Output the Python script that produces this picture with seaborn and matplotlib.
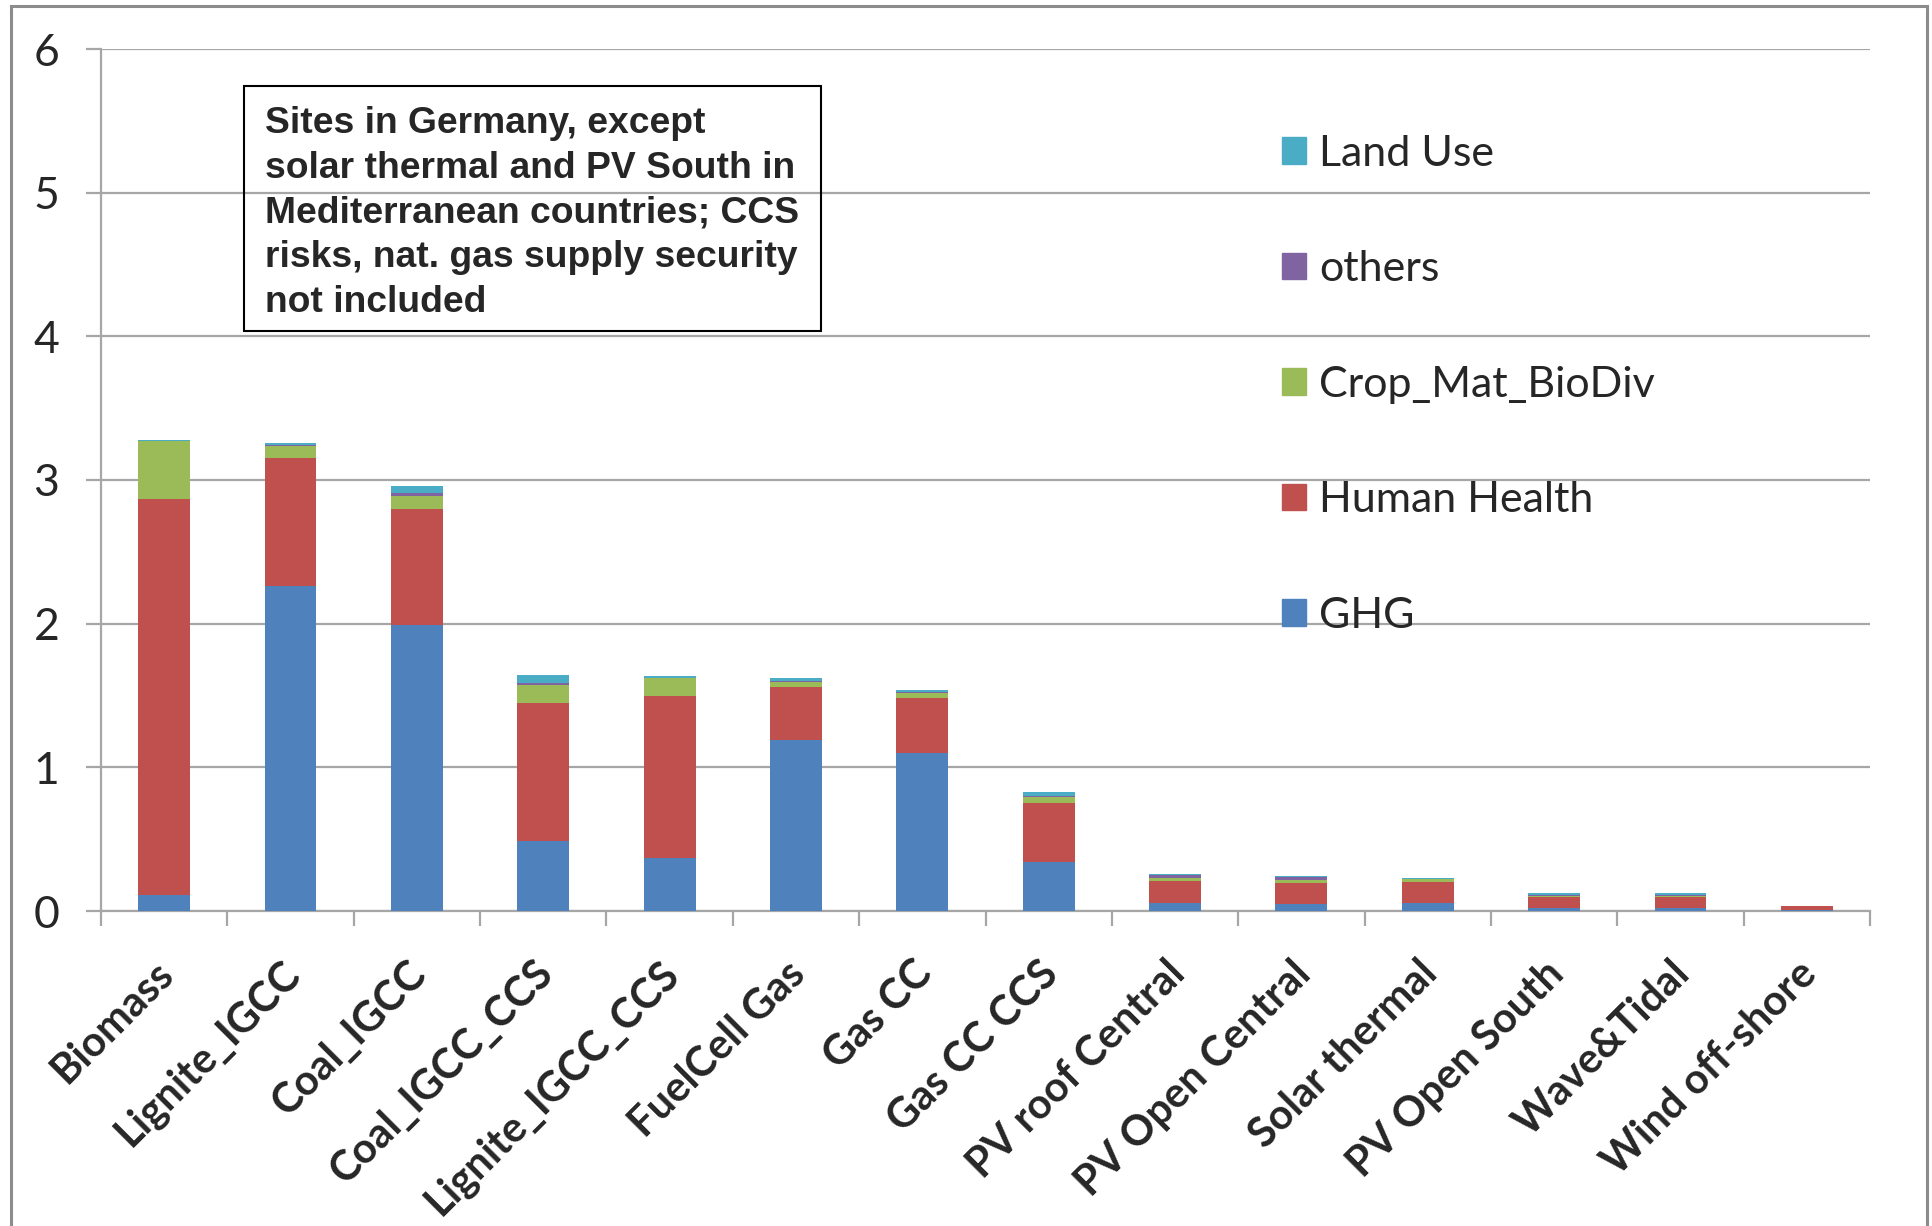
"""Stacked external-cost bars per power technology."""

import matplotlib
matplotlib.use("Agg")
import matplotlib.pyplot as plt
import matplotlib.transforms as mtransforms
from matplotlib.patches import Rectangle, Patch
import numpy as np
import seaborn as sns

W, H = 1932, 1226

categories = ['Biomass', 'Lignite_IGCC', 'Coal_IGCC', 'Coal_IGCC_CCS',
              'Lignite_IGCC_CCS', 'FuelCell Gas', 'Gas CC', 'Gas CC CCS',
              'PV roof Central', 'PV Open Central', 'Solar thermal',
              'PV Open South', 'Wave&Tidal', 'Wind off-shore']
ghg = [0.11, 2.26, 1.99, 0.485, 0.37, 1.19, 1.10, 0.34,
       0.055, 0.05, 0.055, 0.02, 0.02, 0.007]
human_health = [2.755, 0.89, 0.805, 0.96, 1.125, 0.37, 0.38, 0.41,
                0.155, 0.145, 0.145, 0.077, 0.077, 0.025]
crop_mat_biodiv = [0.405, 0.085, 0.095, 0.125, 0.125, 0.035, 0.04, 0.045,
                   0.02, 0.018, 0.022, 0.005, 0.005, 0.002]
others = [0.0, 0.01, 0.02, 0.015, 0.005, 0.005, 0.005, 0.005,
          0.02, 0.022, 0.003, 0.01, 0.01, 0.001]
land_use = [0.01, 0.01, 0.045, 0.055, 0.01, 0.02, 0.015, 0.025,
            0.007, 0.008, 0.005, 0.012, 0.012, 0.003]

series_names = ['GHG', 'Human Health', 'Crop_Mat_BioDiv', 'others', 'Land Use']
series_colors = ['#4F81BD', '#C0504D', '#9BBB59', '#8064A2', '#4BACC6']
note = ("Sites in Germany, except\nsolar thermal and PV South in\n"
        "Mediterranean countries; CCS\nrisks, nat. gas supply security\n"
        "not included")

sns.set_style('white')
plt.rcParams['font.family'] = ['Lato', 'DejaVu Sans']
grid_gray = '#A6A6A6'

fig = plt.figure(figsize=(W / 100, H / 100), dpi=100)
ax = fig.add_axes([101 / W, 1 - 911 / H, (1870 - 101) / W, (911 - 49) / H])

# stacked bars: draw cumulative totals from the top layer down
stack = np.cumsum([ghg, human_health, crop_mat_biodiv, others, land_use], axis=0)
for level in range(len(series_names) - 1, -1, -1):
    sns.barplot(x=categories, y=stack[level], color=series_colors[level],
                saturation=1, width=0.41, edgecolor='none', ax=ax, zorder=3)

ax.set_xlim(-0.5, len(categories) - 0.5)
ax.set_ylim(0, 6)
ax.set_yticks(range(0, 7))
ax.yaxis.grid(True, color=grid_gray, lw=1.6, zorder=0)
ax.xaxis.grid(False)
ax.set_xlabel('')
ax.set_ylabel('')
for side in ['top', 'right']:
    ax.spines[side].set_visible(False)
for side in ['left', 'bottom']:
    ax.spines[side].set_color(grid_gray)
    ax.spines[side].set_linewidth(1.6)

ax.tick_params(axis='y', length=11, width=1.6, color=grid_gray,
               labelsize=32, pad=19, left=True)
ax.set_xticks(np.arange(len(categories)))
ax.set_xticks(np.arange(-0.5, len(categories)), minor=True)
ax.tick_params(axis='x', which='major', length=0, pad=31)
ax.tick_params(axis='x', which='minor', length=11, width=1.6,
               color=grid_gray, bottom=True)
ax.set_xticklabels(categories, rotation=45, ha='right', va='top',
                   rotation_mode='anchor', fontsize=30, fontweight='bold')
shift = mtransforms.ScaledTranslation(-10 / 100, 0, fig.dpi_scale_trans)
for lbl in ax.get_xticklabels():
    lbl.set_transform(lbl.get_transform() + shift)

# note box
fig.patches.append(Rectangle((244 / W, 1 - 331 / H), (821 - 244) / W, (331 - 86) / H,
                             transform=fig.transFigure, fill=False,
                             ec='black', lw=1.5))
fig.text(265 / W, 1 - 106 / H, note, ha='left', va='top', fontsize=26.8,
         fontweight='bold', family='Liberation Sans', linespacing=1.36)

# outer frame of the original chart
fig.patches.append(Rectangle((11 / W, 1 - 1260 / H), (1927 - 11) / W, (1260 - 6) / H,
                             transform=fig.transFigure, fill=False,
                             ec='#8C8C8C', lw=2.2, clip_on=False))

handles = [Patch(color=c, label=n) for n, c in zip(series_names, series_colors)][::-1]
fig.legend(handles=handles, loc='upper left', bbox_to_anchor=(1260 / W, 1 - 113 / H),
           frameon=False, fontsize=31, labelspacing=1.8, handlelength=0.57,
           handleheight=0.57, handletextpad=0.3, borderpad=0)

fig.savefig('out.png', dpi=100)
